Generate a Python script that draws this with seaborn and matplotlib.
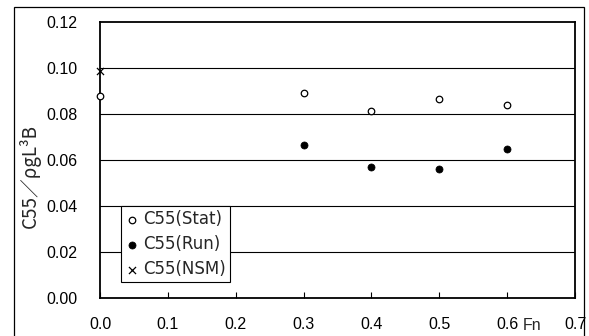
import numpy as np
import pandas as pd
import matplotlib
matplotlib.use("Agg")
import matplotlib.pyplot as plt
import seaborn as sns
from matplotlib.patches import Rectangle

# values
fn_stat = [0.0, 0.3, 0.4, 0.5, 0.6]
c55_stat = [0.0878, 0.0889, 0.0810, 0.0864, 0.0838]
fn_run = [0.3, 0.4, 0.5, 0.6]
c55_run = [0.0664, 0.0570, 0.0558, 0.0647]
fn_nsm = [0.0]
c55_nsm = [0.0986]

x_ticks = [0.0, 0.1, 0.2, 0.3, 0.4, 0.5, 0.6, 0.7]
y_ticks = [0.00, 0.02, 0.04, 0.06, 0.08, 0.10, 0.12]

FS = 11.5

sns.set_theme(style="white")
plt.rcParams['font.family'] = ['Liberation Sans Narrow', 'Liberation Sans', 'Noto Sans CJK JP', 'DejaVu Sans']
plt.rcParams['font.size'] = FS

stat = pd.DataFrame({'Fn': fn_stat, 'C55': c55_stat})
run = pd.DataFrame({'Fn': fn_run, 'C55': c55_run})
nsm = pd.DataFrame({'Fn': fn_nsm, 'C55': c55_nsm})

fig = plt.figure(figsize=(5.89, 3.36), dpi=100)
ax = fig.add_axes([0.1698, 0.114, 0.8065, 0.8214])

# outer frame of the figure
fig.patches.append(Rectangle((14 / 589, -0.05), (584 - 14) / 589, 1 - 7 / 336 + 0.05,
                             transform=fig.transFigure, fill=False,
                             edgecolor='black', linewidth=0.9, zorder=0))

for y in y_ticks[1:-1]:
    ax.axhline(y, color='black', linewidth=0.8, zorder=1)

sns.scatterplot(data=stat, x='Fn', y='C55', ax=ax, marker='o', s=22,
                facecolor='white', edgecolor='black', linewidth=0.9,
                label='C55(Stat)', zorder=3, clip_on=False)
sns.scatterplot(data=run, x='Fn', y='C55', ax=ax, marker='o', s=26,
                color='black', edgecolor='black', linewidth=0.5,
                label='C55(Run)', zorder=3, clip_on=False)
sns.scatterplot(data=nsm, x='Fn', y='C55', ax=ax, marker='x', s=26,
                color='black', linewidth=0.9,
                label='C55(NSM)', zorder=3, clip_on=False)

ax.set_xlim(0, 0.7)
ax.set_ylim(0, 0.12)
ax.set_xticks(x_ticks)
ax.set_xticklabels([f"{v:.1f}" for v in x_ticks])
ax.set_yticks(y_ticks)
ax.set_yticklabels([f"{v:.2f}" for v in y_ticks])
ax.tick_params(axis='x', direction='in', length=4, width=0.8, pad=14,
               colors='black', labelsize=FS, bottom=True)
ax.tick_params(axis='y', length=0, pad=16, colors='black', labelsize=FS)

for sp in ax.spines.values():
    sp.set_color('black')
    sp.set_linewidth(1.3)

ax.set_xlabel('')
ax.set_ylabel('C55／ρgL³B', fontsize=13.5, family=['Noto Sans CJK JP', 'DejaVu Sans'])
ax.yaxis.set_label_coords(-0.125, 0.44)
ax.text(0.636, -0.073, 'Fn', transform=ax.get_xaxis_transform(),
        ha='center', va='top', fontsize=FS)

leg = ax.legend(loc='upper left', bbox_to_anchor=(0.0436, 0.332),
                frameon=True, fancybox=False, framealpha=1,
                edgecolor='black', borderpad=0.25, labelspacing=0.42,
                handletextpad=0.3, handlelength=0.8, borderaxespad=0,
                prop={'family': 'DejaVu Sans', 'size': 12})
leg.get_frame().set_linewidth(0.8)
leg.set_zorder(5)

fig.savefig('out.png', dpi=100)
